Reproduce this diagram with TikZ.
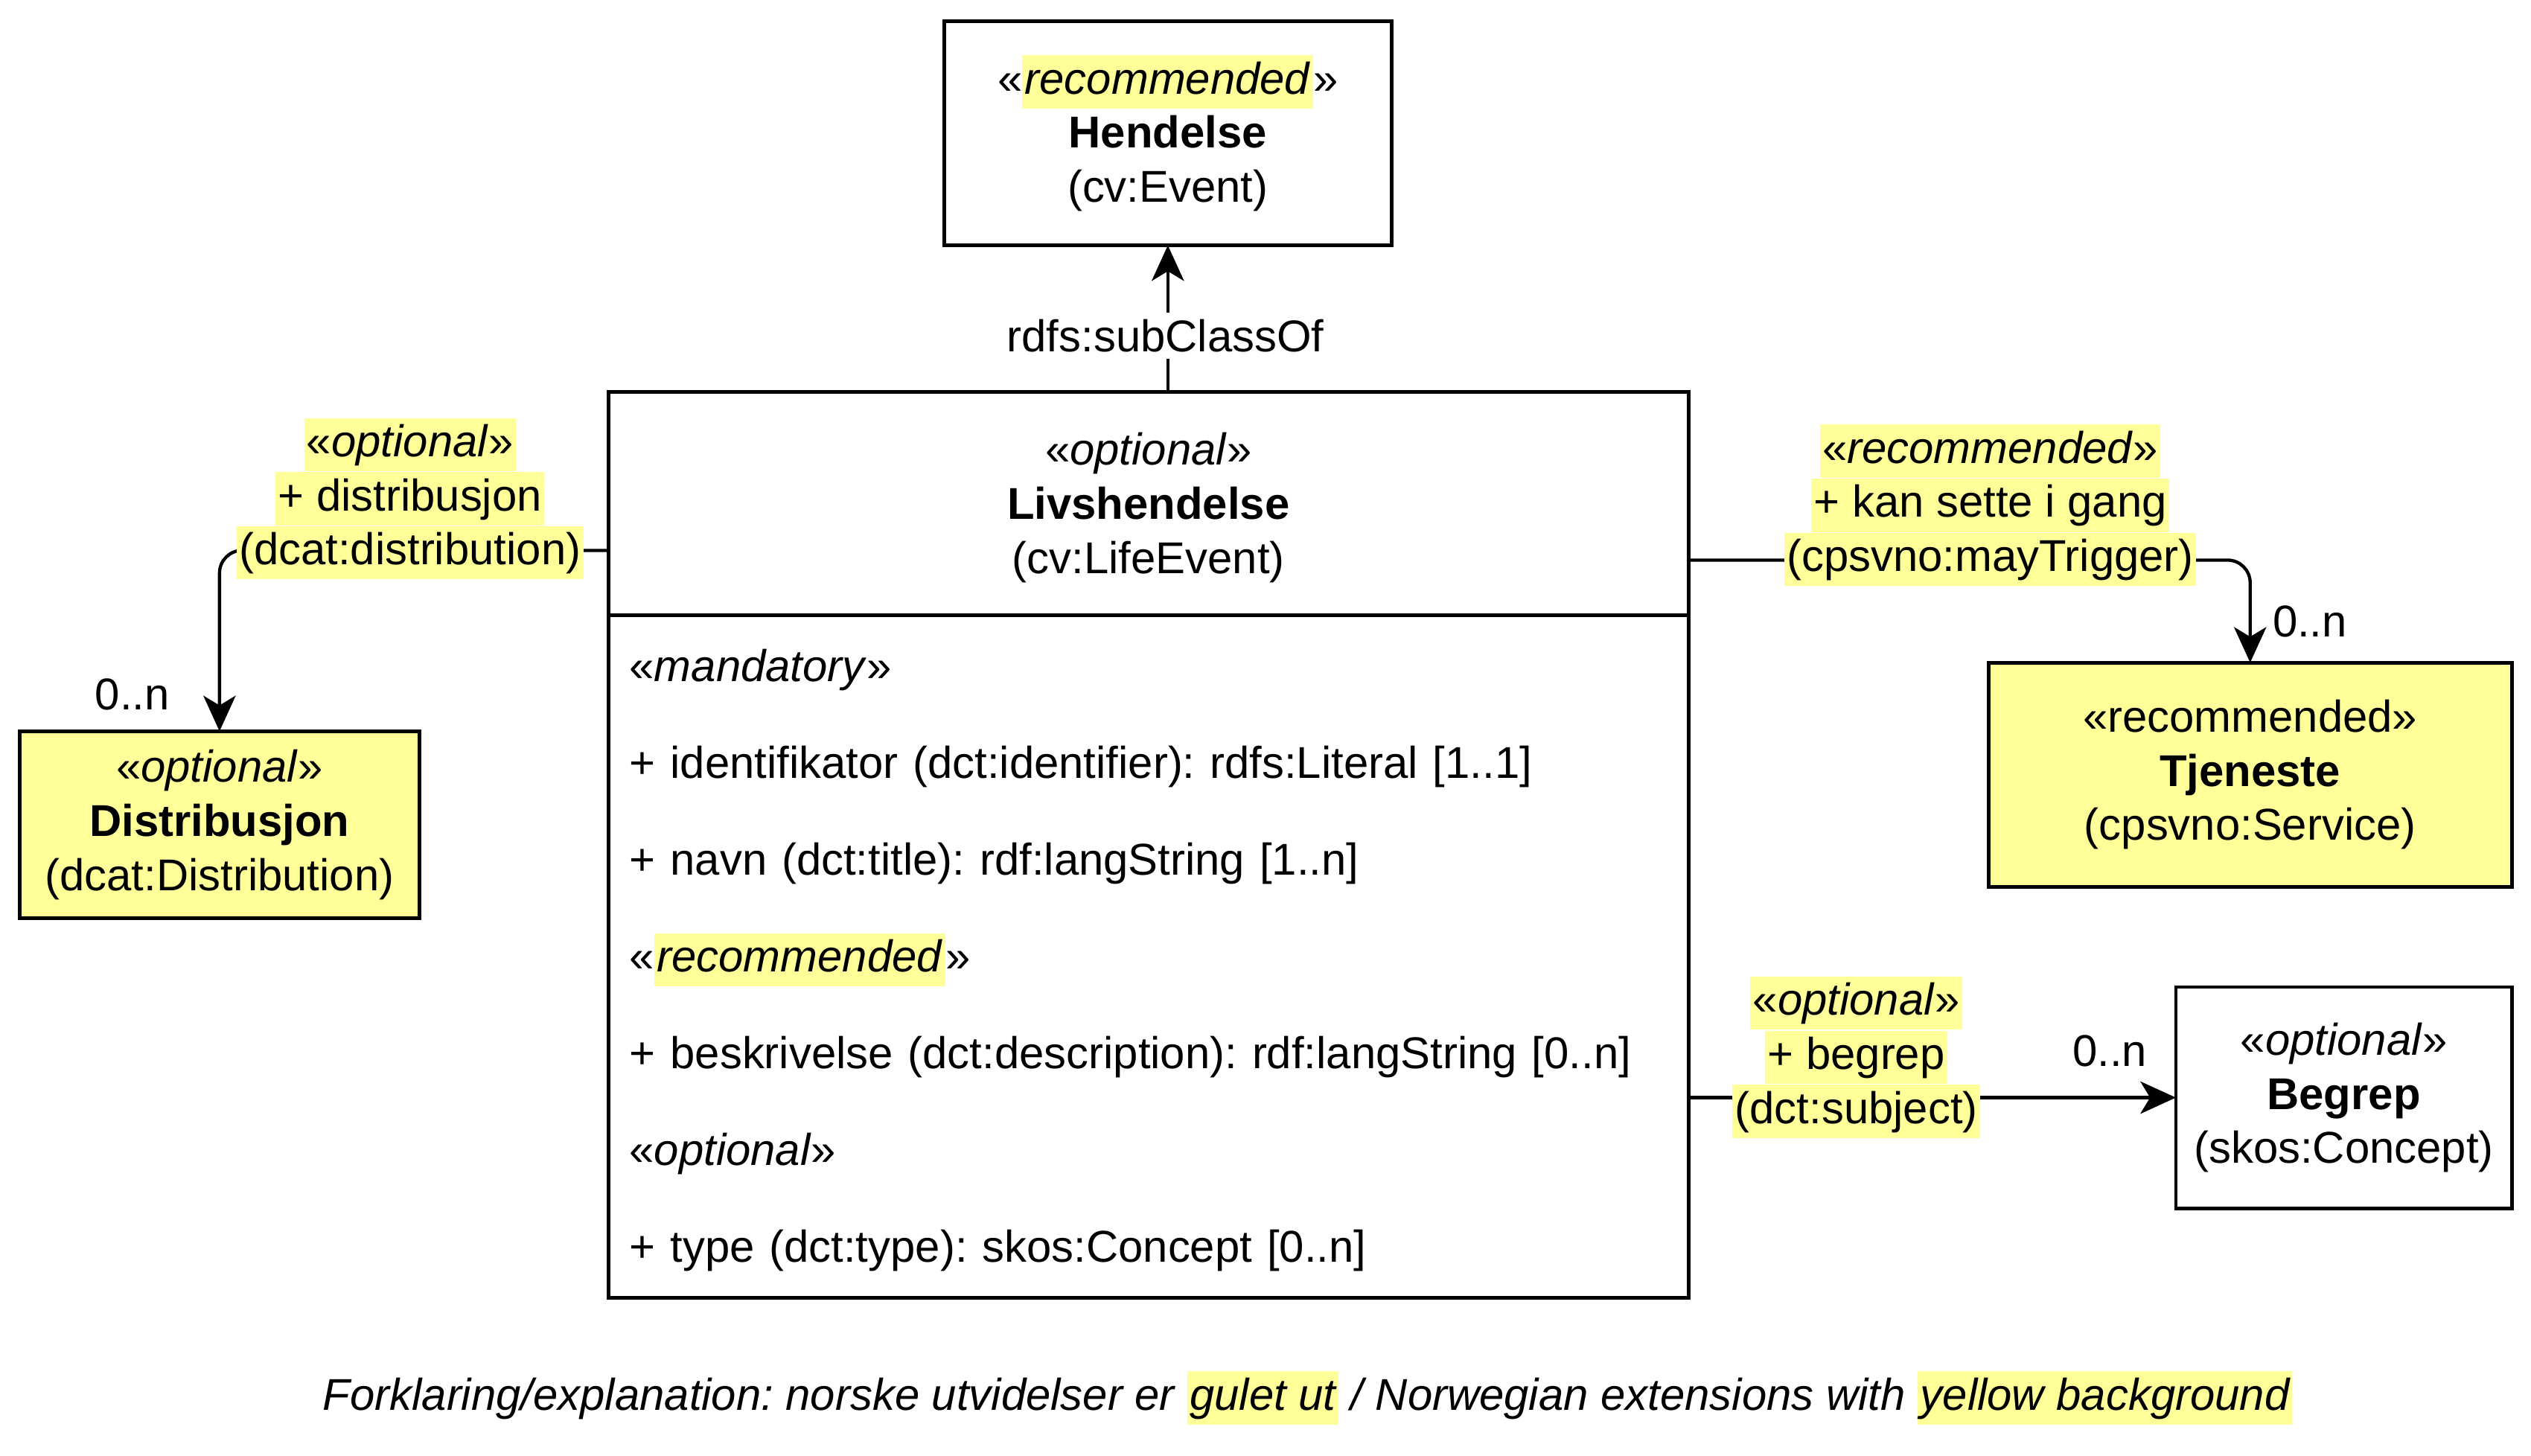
\documentclass[tikz,border=0pt]{standalone}
\usepackage{fontspec}
\setmainfont{Liberation Sans}
\usetikzlibrary{arrows.meta}
\definecolor{hlyellow}{HTML}{FFFF99}
\setlength{\fboxsep}{0pt}
\frenchspacing
\newcommand{\hl}[1]{\colorbox{hlyellow}{\rule[-4.5pt]{0pt}{16.5pt}\hspace{0.8pt}#1\hspace{0.8pt}}}
\newcommand{\lblfont}{\fontsize{13.8}{16.75}\selectfont}
\tikzset{
    klasse/.style={draw, line width=1.15pt, inner sep=0pt, outer sep=0pt, align=center, font=\lblfont},
    utvidet/.style={klasse, fill=hlyellow},
    lbl/.style={inner sep=0pt, align=center, font=\lblfont},
    assoc/.style={line width=1pt, -{Stealth[length=11pt,width=10pt,inset=3pt]}},
}

\begin{document}
\begin{tikzpicture}[x=0.5pt, y=-0.5pt]
    \useasboundingbox (0,0) rectangle (1568,902);
    \node[klasse, minimum width=138.5pt, minimum height=69.5pt] (hendelse) at (723.5,82.5) {«\hl{\textit{recommended}}»\\ \textbf{Hendelse}\\ (cv:Event)};
    \node[klasse, draw=none, minimum width=334.5pt, minimum height=69pt] (lhead) at (711.5,312) {};
    \node[lbl] (lheadtxt) at (711.5,314.5) {«\textit{optional}»\\ \textbf{Livshendelse}\\ (cv:LifeEvent)};
    \node[klasse, draw=none, anchor=north, minimum width=334.5pt, minimum height=209pt, text width=321.5pt, align=left, font=\fontsize{13.8}{30}\selectfont] (attr) at ([yshift=-2.5pt]lhead.south) {«\textit{mandatory}»\\ + identifikator (dct:identifier): rdfs:Literal [1..1]\\ + navn (dct:title): rdf:langString [1..n]\\ «\hl{\textit{recommended}}»\\ + beskrivelse (dct:description): rdf:langString [0..n]\\ «\textit{optional}»\\ + type (dct:type): skos:Concept [0..n]};
    \draw[line width=1.15pt] (lhead.north west) rectangle (attr.south east);
    \draw[line width=1.15pt] (lhead.south west) -- (lhead.south east);
    \node[utvidet, minimum width=124pt, minimum height=58pt] (distribusjon) at (136,511) {«\textit{optional}»\\ \textbf{Distribusjon}\\ (dcat:Distribution)};
    \node[utvidet, minimum width=162pt, minimum height=69.5pt] (tjeneste) at (1394,480) {«recommended»\\ \textbf{Tjeneste}\\ (cpsvno:Service)};
    \node[klasse, minimum width=104pt, minimum height=68.5pt] (begrep) at (1452,680) {«\textit{optional}»\\ \textbf{Begrep}\\ (skos:Concept)};

    \draw[assoc] (hendelse.south |- lhead.north) -- (hendelse.south);
    \draw[assoc, rounded corners=7pt] ([yshift=-14.5pt]lhead.west) -| (distribusjon.north);
    \draw[assoc, rounded corners=7pt] ([yshift=-17.5pt]lhead.east) -| (tjeneste.north);
    \draw[assoc] (attr.east |- begrep.west) -- (begrep.west);

    \node[lbl, fill=white, inner sep=2pt] (subklasse) at (722,208) {rdfs:subClassOf};
    \node[lbl] (distlbl) at (254,309) {\hl{«\textit{optional}»}\\ \hl{+ distribusjon}\\ \hl{(dcat:distribution)}};
    \node[lbl] (tjlbl) at (1233,313) {\hl{«\textit{recommended}»}\\ \hl{+ kan sette i gang}\\ \hl{(cpsvno:mayTrigger)}};
    \node[lbl] (beglbl) at (1150,655) {\hl{«\textit{optional}»}\\ \hl{+ begrep}\\ \hl{(dct:subject)}};
    \node[lbl] (distmult) at (82,430) {0..n};
    \node[lbl] (tjmult) at (1431,385) {0..n};
    \node[lbl] (begmult) at (1307,651) {0..n};

    \node[lbl, font=\lblfont\itshape] (forklaring) at (810,866) {Forklaring/explanation: norske utvidelser er \hl{gulet ut} / Norwegian extensions with \hl{yellow background}};
\end{tikzpicture}
\end{document}
